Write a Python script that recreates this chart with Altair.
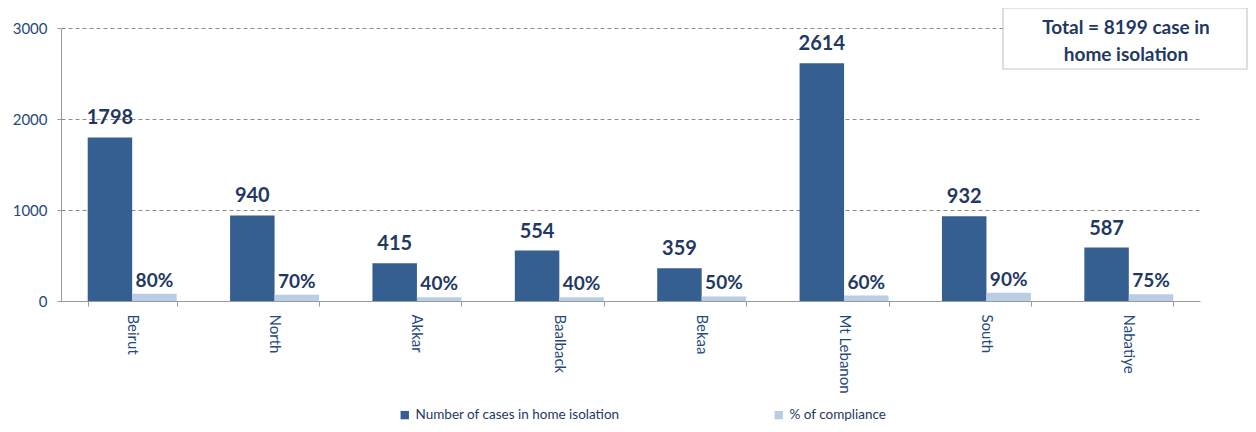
import altair as alt
import pandas as pd

regions = ["Beirut", "North", "Akkar", "Baalback", "Bekaa", "Mt Lebanon", "South", "Nabatiye"]
cases = [1798, 940, 415, 554, 359, 2614, 932, 587]
compliance = [80, 70, 40, 40, 50, 60, 90, 75]
series_names = ["Number of cases in home isolation", "% of compliance"]
colors = ["#365F91", "#B9CDE5"]
y_ticks = [0, 1000, 2000, 3000]
total_text = "Total = 8199 case in\nhome isolation"

rows = []
for r, c, p in zip(regions, cases, compliance):
    rows.append({"region": r, "series": series_names[0], "value": c, "label": str(c)})
    rows.append({"region": r, "series": series_names[1], "value": p, "label": f"{p}%"})
df = pd.DataFrame(rows)

FONT = "Lato"
NAVY = "#1F3864"

x_enc = alt.X("region:N", sort=regions, title=None,
              scale=alt.Scale(paddingInner=0.375, paddingOuter=0.1875),
              axis=alt.Axis(labelAngle=90, labelAlign="left", labelBaseline="middle",
                            labelFontSize=15, labelColor="#1F497D", labelFont=FONT,
                            tickBand="extent", tickSize=5, tickColor="#999999",
                            domainColor="#999999", labelPadding=8, grid=False))
xoff = alt.XOffset("series:N", sort=series_names, scale=alt.Scale(paddingInner=0, paddingOuter=0))
y_enc = alt.Y("value:Q", title=None,
              scale=alt.Scale(domain=[0, 3000], nice=False),
              axis=alt.Axis(values=y_ticks, format="d", grid=True, gridDash=[4, 3],
                            gridColor="#8C8C8C",
                            labelFontSize=15, labelColor="#1F497D", labelFont=FONT,
                            domainColor="#999999", tickColor="#999999", tickSize=4,
                            labelPadding=10))

base = alt.Chart(df)

bars = base.mark_bar().encode(
    x=x_enc, xOffset=xoff, y=y_enc,
    color=alt.Color("series:N", sort=series_names,
                    scale=alt.Scale(domain=series_names, range=colors),
                    legend=alt.Legend(title=None, orient="none", legendX=337, legendY=380,
                                      direction="horizontal", symbolType="square",
                                      symbolSize=70, symbolStrokeWidth=0,
                                      labelFontSize=13.5, labelFont=FONT, labelColor="#1F3864",
                                      columnPadding=152, labelLimit=400)),
)

case_labels = base.transform_filter(alt.datum.series == series_names[0]).mark_text(
    fontWeight="bold", fontSize=20, font=FONT, color=NAVY, baseline="alphabetic", dy=-13
).encode(x=alt.X("region:N", sort=regions), xOffset=xoff, y="value:Q", text="label:N")

pct_labels = base.transform_filter(alt.datum.series == series_names[1]).mark_text(
    fontWeight="bold", fontSize=19, font=FONT, color=NAVY, baseline="alphabetic", dy=-7
).encode(x=alt.X("region:N", sort=regions), xOffset=xoff, y="value:Q", text="label:N")

box_df = pd.DataFrame({"t": [total_text]})
box = alt.Chart(box_df).mark_rect(fill="white", stroke="#C8C8C8", strokeWidth=1.2).encode(
    x=alt.value(942), x2=alt.value(1186), y=alt.value(-20), y2=alt.value(41))
box_text = alt.Chart(box_df).mark_text(
    fontWeight="bold", fontSize=19, font=FONT, color=NAVY, lineBreak="\n", lineHeight=27,
    align="center", baseline="middle"
).encode(x=alt.value(1065), y=alt.value(0), text="t:N")

chart = alt.layer(bars, case_labels, pct_labels, box, box_text).properties(
    width=1139, height=273,
    autosize=alt.AutoSizeParams(type="none"),
    padding={"left": 53, "top": 20, "right": 48, "bottom": 123},
).configure(background="white").configure_view(stroke=None)

chart.save("out.html", embed_options={"renderer": "svg", "actions": False})
